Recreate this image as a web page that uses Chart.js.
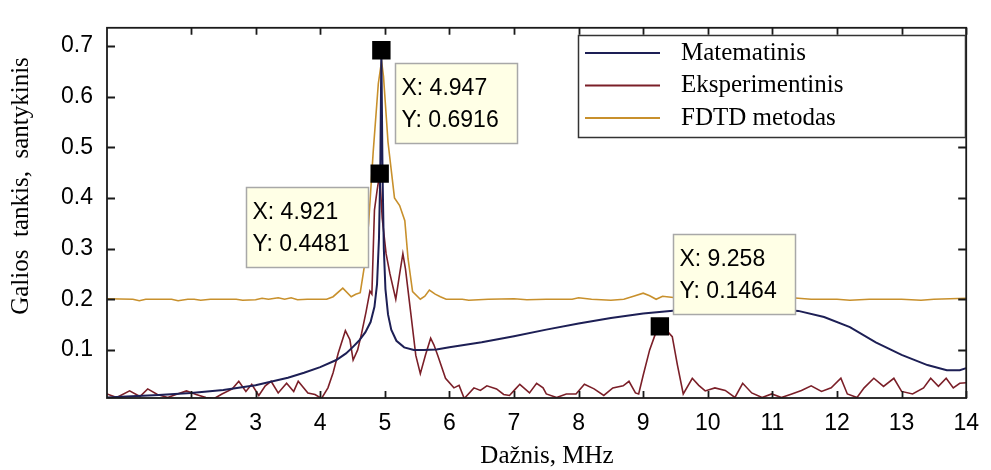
<!DOCTYPE html>
<html>
<head>
<meta charset="utf-8">
<script src="https://cdn.jsdelivr.net/npm/chart.js@4.4.1/dist/chart.umd.min.js"></script>
<style>
  html, body { margin: 0; padding: 0; background: #fff; }
  #wrap { width: 991px; height: 470px; }
</style>
</head>
<body>
<div id="wrap"><canvas id="powerChart" width="991" height="470"></canvas></div>
<script>
// Matematinis
const mathX = [0.7, 1.0, 1.5, 2.0, 2.5, 3.0, 3.5, 3.75, 4.0, 4.25, 4.4, 4.5, 4.6, 4.7, 4.78, 4.84, 4.88, 4.91, 4.93, 4.947,
  4.965, 4.985, 5.01, 5.05, 5.1, 5.18, 5.3, 5.45, 5.6, 5.8, 6.0, 6.5, 7.0, 7.5, 8.0, 8.5, 9.0, 9.5, 10.0, 10.5,
  11.0, 11.4, 11.8, 12.2, 12.6, 13.0, 13.4, 13.7, 13.9, 14.0];
const mathY = [0.006, 0.008, 0.011, 0.015, 0.021, 0.03, 0.045, 0.055, 0.066, 0.08, 0.093, 0.105, 0.118, 0.135, 0.155, 0.185, 0.23, 0.32, 0.45, 0.6916,
  0.45, 0.3, 0.22, 0.17, 0.14, 0.118, 0.105, 0.1, 0.1, 0.101, 0.105, 0.115, 0.127, 0.14, 0.152, 0.163, 0.172, 0.178, 0.181, 0.182,
  0.181, 0.177, 0.165, 0.145, 0.115, 0.09, 0.07, 0.06, 0.06, 0.064];

// Eksperimentinis
const expX = [0.7, 0.85, 1.05, 1.21, 1.33, 1.48, 1.64, 1.79, 1.93, 2.08, 2.23, 2.36, 2.48, 2.64, 2.74, 2.85, 2.94, 3.05, 3.15, 3.24,
  3.35, 3.48, 3.59, 3.66, 3.81, 3.92, 4.02, 4.12, 4.2, 4.28, 4.39, 4.46, 4.51, 4.58, 4.64, 4.71, 4.77, 4.8, 4.84, 4.88,
  4.921, 4.96, 5.02, 5.08, 5.17, 5.23, 5.28, 5.32, 5.4, 5.48, 5.55, 5.63, 5.71, 5.76, 5.82, 5.94, 6.07, 6.15, 6.23, 6.38,
  6.48, 6.58, 6.73, 6.84, 6.93, 7.01, 7.09, 7.24, 7.35, 7.45, 7.5, 7.66, 7.81, 7.96, 8.09, 8.24, 8.39, 8.53, 8.69, 8.78,
  8.88, 8.93, 9.0, 9.1, 9.19, 9.258, 9.35, 9.45, 9.53, 9.62, 9.76, 9.86, 9.96, 10.11, 10.27, 10.42, 10.54, 10.68, 10.84, 10.99,
  11.14, 11.3, 11.45, 11.6, 11.76, 11.91, 12.06, 12.16, 12.31, 12.42, 12.57, 12.72, 12.88, 13.0, 13.17, 13.34, 13.45, 13.57, 13.69, 13.8,
  13.9, 14.0];
const expY = [0.013, 0.006, 0.019, 0.008, 0.023, 0.012, 0.006, 0.013, 0.019, 0.012, 0.006, 0.004, 0.013, 0.023, 0.038, 0.018, 0.032, 0.01, 0.029, 0.038,
  0.015, 0.034, 0.018, 0.038, 0.015, 0.012, 0.004, 0.025, 0.055, 0.094, 0.138, 0.12, 0.08, 0.1, 0.132, 0.175, 0.216, 0.21, 0.376, 0.414,
  0.4481, 0.36, 0.29, 0.25, 0.2, 0.25, 0.29, 0.26, 0.175, 0.089, 0.053, 0.09, 0.123, 0.11, 0.089, 0.044, 0.025, 0.03, 0.004, 0.025,
  0.02, 0.029, 0.023, 0.012, 0.01, 0.021, 0.032, 0.015, 0.034, 0.025, 0.013, 0.006, 0.013, 0.013, 0.032, 0.023, 0.01, 0.025, 0.029, 0.038,
  0.015, 0.013, 0.05, 0.1, 0.132, 0.1464, 0.14, 0.126, 0.07, 0.013, 0.044, 0.03, 0.019, 0.025, 0.02, 0.006, 0.034, 0.015, 0.006, 0.013,
  0.006, 0.013, 0.02, 0.029, 0.018, 0.025, 0.044, 0.013, 0.006, 0.025, 0.044, 0.028, 0.044, 0.018, 0.013, 0.025, 0.044, 0.028, 0.044, 0.025,
  0.034, 0.035];

// FDTD metodas
const fdtdX = [0.7, 1.1, 1.2, 1.3, 1.7, 1.8, 1.95, 2.05, 2.15, 2.3, 2.7, 2.8, 3.0, 3.1, 3.2, 3.35, 3.45, 3.55, 3.65, 3.8,
  4.1, 4.2, 4.35, 4.48, 4.55, 4.62, 4.69, 4.75, 4.82, 4.9, 4.95, 4.98, 5.05, 5.15, 5.23, 5.31, 5.36, 5.43, 5.55, 5.62,
  5.69, 5.78, 5.86, 5.95, 6.2, 6.3, 6.6, 7.0, 7.2, 7.5, 7.9, 8.0, 8.2, 8.5, 8.7, 8.85, 9.0, 9.1, 9.2, 9.3,
  9.5, 9.8, 10.2, 10.5, 10.8, 11.3, 11.6, 12.0, 12.2, 12.5, 13.0, 13.3, 13.5, 14.0];
const fdtdY = [0.201, 0.2, 0.197, 0.2, 0.2, 0.197, 0.2, 0.2, 0.198, 0.2, 0.2, 0.198, 0.199, 0.202, 0.2, 0.203, 0.2, 0.203, 0.199, 0.2,
  0.2, 0.205, 0.222, 0.205, 0.21, 0.213, 0.27, 0.35, 0.49, 0.626, 0.67, 0.64, 0.51, 0.4, 0.385, 0.355, 0.28, 0.215, 0.2, 0.206,
  0.218, 0.21, 0.205, 0.2, 0.2, 0.198, 0.2, 0.201, 0.199, 0.2, 0.2, 0.203, 0.2, 0.198, 0.2, 0.206, 0.212, 0.207, 0.2, 0.206,
  0.203, 0.2, 0.2, 0.202, 0.2, 0.203, 0.2, 0.2, 0.198, 0.2, 0.2, 0.198, 0.2, 0.202];

// data tips
const tipX = [4.947, 4.921, 9.258];
const tipY = [0.6916, 0.4481, 0.1464];

const xTicks = [2, 3, 4, 5, 6, 7, 8, 9, 10, 11, 12, 13, 14];
const yTicks = [0.1, 0.2, 0.3, 0.4, 0.5, 0.6, 0.7];
const seriesNames = ['Matematinis', 'Eksperimentinis', 'FDTD metodas'];
const xTitle = 'Dažnis, MHz';
const yTitle = 'Galios  tankis,  santykinis';

const toPoints = (xs, ys) => xs.map((v, i) => ({ x: v, y: ys[i] }));

// where each tip box sits relative to its marker
const tipOffset = [[14, 13], [-134, 13], [13, -92]];

const sansFont = '"Liberation Sans", Arial, sans-serif';
const serifFont = '"Liberation Serif", "Times New Roman", serif';

const extras = {
    id: 'extras',
    afterDatasetsDraw(chart) {
        const ctx = chart.ctx;
        const a = chart.chartArea;
        const xs = chart.scales.x, ys = chart.scales.y;
        ctx.save();

        // box and inward ticks
        ctx.strokeStyle = '#1a1a1a';
        ctx.lineWidth = 1.8;
        ctx.strokeRect(a.left, a.top, a.right - a.left, a.bottom - a.top);
        ctx.beginPath();
        xTicks.forEach(t => {
            const px = Math.round(xs.getPixelForValue(t)) + 0.5;
            ctx.moveTo(px, a.bottom); ctx.lineTo(px, a.bottom - 7);
            ctx.moveTo(px, a.top); ctx.lineTo(px, a.top + 7);
        });
        yTicks.forEach(t => {
            const py = Math.round(ys.getPixelForValue(t)) + 0.5;
            ctx.moveTo(a.left, py); ctx.lineTo(a.left + 8, py);
            ctx.moveTo(a.right, py); ctx.lineTo(a.right - 8, py);
        });
        ctx.stroke();

        // data tips
        tipX.forEach((tx, i) => {
            const px = xs.getPixelForValue(tx);
            const py = ys.getPixelForValue(tipY[i]);
            const bx = Math.round(px + tipOffset[i][0]) + 0.5;
            const by = Math.round(py + tipOffset[i][1]) + 0.5;
            ctx.fillStyle = '#ffffe6';
            ctx.fillRect(bx, by, 122, 80);
            ctx.strokeStyle = '#a8a8a8';
            ctx.lineWidth = 1.5;
            ctx.strokeRect(bx, by, 122, 80);
            ctx.fillStyle = '#000';
            ctx.font = '23px ' + sansFont;
            ctx.textAlign = 'left';
            ctx.textBaseline = 'middle';
            ctx.fillText('X: ' + tx, bx + 6, by + 25);
            ctx.fillText('Y: ' + tipY[i], bx + 6, by + 57);
        });

        // legend
        const lx = 578.5, ly = 35.5;
        ctx.fillStyle = '#fff';
        ctx.fillRect(lx, ly, 387, 102);
        ctx.strokeStyle = '#333';
        ctx.lineWidth = 1.5;
        ctx.strokeRect(lx, ly, 387, 102);
        ctx.font = '25px ' + serifFont;
        ctx.textBaseline = 'middle';
        seriesNames.forEach((name, i) => {
            const yy = 53 + i * 32.5;
            ctx.strokeStyle = chart.data.datasets[i].borderColor;
            ctx.lineWidth = 2;
            ctx.beginPath();
            ctx.moveTo(585, yy); ctx.lineTo(660, yy);
            ctx.stroke();
            ctx.fillStyle = '#000';
            ctx.fillText(name, 681, yy);
        });

        // axis titles
        ctx.fillStyle = '#000';
        ctx.font = '25px ' + serifFont;
        ctx.textAlign = 'center';
        ctx.fillText(xTitle, 547, 456);
        ctx.translate(21, 186);
        ctx.rotate(-Math.PI / 2);
        ctx.fillText(yTitle, 0, 0);
        ctx.restore();
    }
};

document.addEventListener('DOMContentLoaded', function () {
    const ctx = document.getElementById('powerChart').getContext('2d');
    new Chart(ctx, {
        type: 'line',
        data: {
            datasets: [
                {
                    label: seriesNames[0],
                    data: toPoints(mathX, mathY),
                    borderColor: '#1d1f55',
                    borderWidth: 2,
                    pointRadius: 0,
                    tension: 0
                },
                {
                    label: seriesNames[1],
                    data: toPoints(expX, expY),
                    borderColor: '#7b1f28',
                    borderWidth: 1.6,
                    pointRadius: 0,
                    tension: 0
                },
                {
                    label: seriesNames[2],
                    data: toPoints(fdtdX, fdtdY),
                    borderColor: '#c8902c',
                    borderWidth: 1.6,
                    pointRadius: 0,
                    tension: 0
                },
                {
                    label: 'tips',
                    data: toPoints(tipX, tipY),
                    showLine: false,
                    pointStyle: 'rect',
                    pointRadius: 13,
                    pointBackgroundColor: '#000',
                    pointBorderWidth: 0,
                    order: -1
                }
            ]
        },
        options: {
            responsive: false,
            animation: false,
            devicePixelRatio: 1,
            layout: { padding: { top: 9, right: 18, left: 0, bottom: 0 } },
            plugins: {
                legend: { display: false },
                tooltip: { enabled: false }
            },
            scales: {
                x: {
                    type: 'linear',
                    min: 0.7,
                    max: 14,
                    afterFit: s => { s.height = 72; },
                    afterBuildTicks: s => { s.ticks = xTicks.map(v => ({ value: v })); },
                    grid: { display: false, drawTicks: false },
                    border: { display: false },
                    ticks: {
                        padding: 12,
                        maxRotation: 0,
                        autoSkip: false,
                        color: '#000',
                        font: { family: sansFont, size: 23 }
                    }
                },
                y: {
                    min: 0.005,
                    max: 0.736,
                    afterFit: s => { s.width = 107; },
                    afterBuildTicks: s => { s.ticks = yTicks.map(v => ({ value: v })); },
                    grid: { display: false, drawTicks: false },
                    border: { display: false },
                    ticks: {
                        padding: 14,
                        color: '#000',
                        font: { family: sansFont, size: 23 },
                        callback: v => v.toFixed(1)
                    }
                }
            }
        },
        plugins: [extras]
    });
});
</script>
</body>
</html>
